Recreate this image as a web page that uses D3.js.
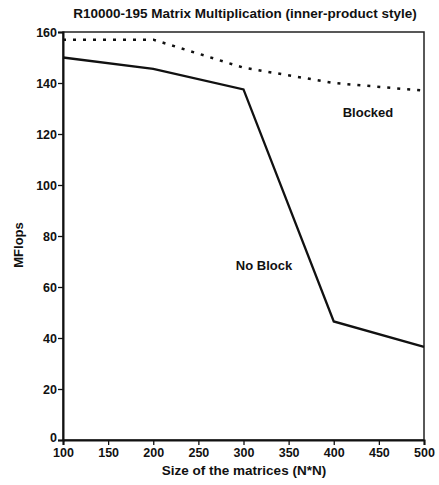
<!DOCTYPE html>
<html>
<head>
<meta charset="utf-8">
<script src="https://cdn.jsdelivr.net/npm/d3@7"></script>
<style>
  body { margin: 0; background: #fff; }
  text { font-family: "Liberation Sans", Arial, sans-serif; font-weight: bold; fill: #111; }
</style>
</head>
<body>
<script>
// values
const sizes = [100, 200, 300, 400, 500];
const blocked = [157, 157, 146, 140, 137];
const noBlock = [150, 145.5, 137.5, 46.5, 36.5];
const xTicks = [100, 150, 200, 250, 300, 350, 400, 450, 500];
const yTicks = [0, 20, 40, 60, 80, 100, 120, 140, 160];

const width = 439, height = 485;
const margin = {top: 32, right: 15, bottom: 45, left: 63};

const svg = d3.select("body").append("svg")
    .attr("width", width)
    .attr("height", height);

const x = d3.scaleLinear().domain([100, 500]).range([margin.left, width - margin.right]);
const y = d3.scaleLinear().domain([0, 160]).range([height - margin.bottom, margin.top]);

// frame
svg.append("rect")
    .attr("x", x(100)).attr("y", y(160))
    .attr("width", x(500) - x(100)).attr("height", y(0) - y(160))
    .attr("fill", "none").attr("stroke", "#222").attr("stroke-width", 1.5);

const xAxis = svg.append("g")
    .attr("transform", `translate(0,${y(0)})`)
    .call(d3.axisBottom(x).tickValues(xTicks).tickSize(5).tickPadding(3));
const yAxis = svg.append("g")
    .attr("transform", `translate(${x(100)},0)`)
    .call(d3.axisLeft(y).tickValues(yTicks).tickSize(5).tickPadding(1));

[xAxis, yAxis].forEach(g => {
  g.select(".domain").attr("stroke", "#111").attr("stroke-width", 2);
  g.selectAll(".tick line").attr("stroke", "#111").attr("stroke-width", 1.3);
  g.selectAll("text").attr("font-size", 12.5).attr("font-family", "Liberation Sans, Arial, sans-serif")
    .attr("font-weight", "bold").attr("fill", "#111");
});
// nudge the 0 label up so it clears the 100 label, as in the original
yAxis.selectAll(".tick text").filter(d => d === 0).attr("dy", "0.1em");

const line = d3.line().x(d => x(d[0])).y(d => y(d[1]));

svg.append("path")
    .datum(sizes.map((s, i) => [s, blocked[i]]))
    .attr("d", line)
    .attr("fill", "none").attr("stroke", "#111")
    .attr("stroke-width", 2.5).attr("stroke-dasharray", "3,7");

svg.append("path")
    .datum(sizes.map((s, i) => [s, noBlock[i]]))
    .attr("d", line)
    .attr("fill", "none").attr("stroke", "#111")
    .attr("stroke-width", 2.3);

// texts
svg.append("text")
    .attr("x", 245).attr("y", 18)
    .attr("text-anchor", "middle").attr("font-size", 13.5)
    .text("R10000-195 Matrix Multiplication (inner-product style)");

svg.append("text")
    .attr("x", 244).attr("y", 475)
    .attr("text-anchor", "middle").attr("font-size", 13.5)
    .text("Size of the matrices (N*N)");

svg.append("text")
    .attr("transform", "translate(23,245) rotate(-90)")
    .attr("text-anchor", "middle").attr("font-size", 13)
    .text("MFlops");

svg.append("text")
    .attr("x", 368).attr("y", 117)
    .attr("text-anchor", "middle").attr("font-size", 13)
    .text("Blocked");

svg.append("text")
    .attr("x", 264).attr("y", 270)
    .attr("text-anchor", "middle").attr("font-size", 13)
    .text("No Block");
</script>
</body>
</html>
